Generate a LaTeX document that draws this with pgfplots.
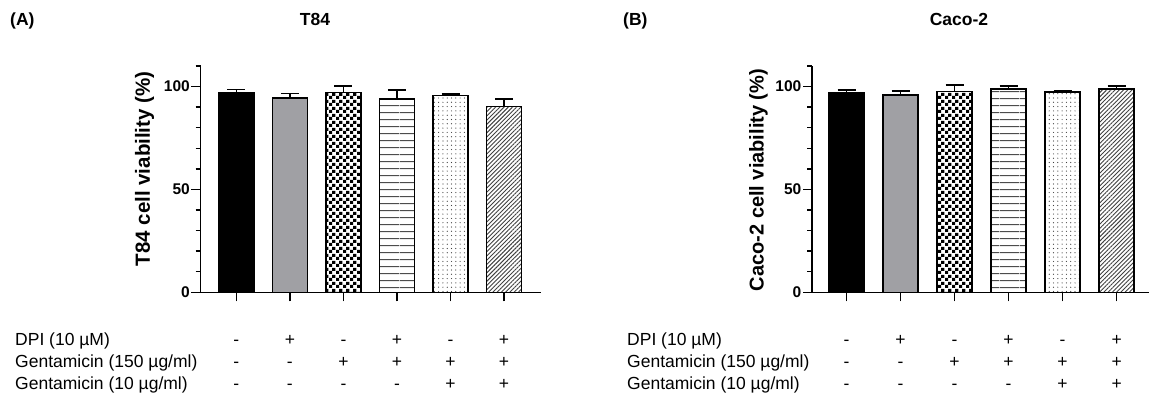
\documentclass[border=0pt]{standalone}
\usepackage{fontspec}
\setmainfont{Liberation Sans}
\usepackage{pgfplots}
\pgfplotsset{compat=1.18}
\usetikzlibrary{patterns,patterns.meta}
\definecolor{bargray}{RGB}{160,160,164}
\tikzdeclarepattern{
  name=bigcheck,
  type=uncolored,
  bounding box={(0pt,0pt) and (7pt,7pt)},
  tile size={(7pt,7pt)},
  code={
    \fill (0pt,0pt) rectangle (3.5pt,3.5pt);
    \fill (3.5pt,3.5pt) rectangle (7pt,7pt);
  }
}
\tikzdeclarepattern{
  name=hstripes,
  type=uncolored,
  bounding box={(0pt,0pt) and (20pt,6.8pt)},
  tile size={(20pt,6.8pt)},
  code={
    \fill (0pt,2.85pt) rectangle (20pt,3.95pt);
  }
}
\tikzset{
  rowlab/.style={font=\fontsize{17.5}{22}\selectfont, align=left, inner sep=0pt},
  sym/.style={font=\fontsize{17.5}{22}\selectfont, align=center, inner sep=0pt},
}
\pgfplotsset{
  panel/.style={
    scale only axis, anchor=south west,
    height=226.3pt,
    ymin=0, ymax=110,
    axis lines*=left,
    axis line style={line width=1.5pt, black},
    ytick={0,50,100},
    minor ytick={10,20,30,40,60,70,80,90,110},
    tick align=outside,
    major tick length=9pt, minor tick length=5pt,
    every tick/.style={line width=1.5pt, black},
    xtick={1,...,6}, xticklabels={},
    yticklabel style={font=\fontsize{15.5}{15.5}\selectfont\bfseries, inner sep=1.5pt},
    /pgf/number format/assume math mode=true,
    clip=false,
    every axis y label/.style={rotate=90, anchor=center, font=\fontsize{20.5}{20.5}\selectfont\bfseries},
  },
  errs/.style={error bars/y dir=plus, error bars/y explicit,
    error bars/error bar style={line width=1.5pt, black, solid},
    error bars/error mark options={line width=1.5pt, black, mark size=9pt, rotate=90}},
  barbase/.style={ybar, bar width=35pt, bar shift=0pt, draw=black, line width=1.5pt, errs},
}
\begin{document}
\begin{tikzpicture}
\useasboundingbox (0pt,0pt) rectangle (1150pt,-399pt);
% titles
\node[font=\fontsize{17.5}{17.5}\selectfont\bfseries, anchor=base west, inner sep=0pt] at (10pt,-25pt) {(A)};
\node[font=\fontsize{17.5}{17.5}\selectfont\bfseries, anchor=base, inner sep=0pt] at (315pt,-25pt) {T84};
\node[font=\fontsize{17.5}{17.5}\selectfont\bfseries, anchor=base west, inner sep=0pt] at (623pt,-25pt) {(B)};
\node[font=\fontsize{17.5}{17.5}\selectfont\bfseries, anchor=base, inner sep=0pt] at (959pt,-25pt) {Caco-2};

% Panel A
\begin{axis}[panel, at={(200.5pt,-292.3pt)}, width=340.5pt, xmin=0.33, xmax=6.69,
  ylabel={T84 cell viability (\%)},
  ylabel style={at={(rel axis cs:0,0.545)}, yshift=56pt}]
\addplot[barbase, fill=black] coordinates {(1,96.8) +- (0,1.7)};
\addplot[barbase, fill=bargray] coordinates {(2,94.5) +- (0,2.1)};
\addplot[barbase, pattern=bigcheck, pattern color=black] coordinates {(3,97.1) +- (0,3.1)};
\addplot[barbase, pattern=hstripes, pattern color=gray!60!black] coordinates {(4,94.0) +- (0,4.4)};
\addplot[barbase, pattern={Dots[distance=4.3pt,radius=0.6pt]}, pattern color=gray!50!black] coordinates {(5,95.6) +- (0,0.7)};
\addplot[barbase, pattern={Lines[angle=45,distance=3pt,line width=0.9pt]}, pattern color=gray!50!black] coordinates {(6,90.3) +- (0,3.7)};
\node[rowlab, anchor=north west, xshift=-185.5pt, yshift=-37.7pt] at (rel axis cs:0,0) {\strut DPI (10 µM)\\\strut Gentamicin (150 µg/ml)\\\strut Gentamicin (10 µg/ml)};
\node[sym, anchor=north, yshift=-37.7pt] at (axis cs:1,0) {\strut-\\\strut-\\\strut-};
\node[sym, anchor=north, yshift=-37.7pt] at (axis cs:2,0) {\strut+\\\strut-\\\strut-};
\node[sym, anchor=north, yshift=-37.7pt] at (axis cs:3,0) {\strut-\\\strut+\\\strut-};
\node[sym, anchor=north, yshift=-37.7pt] at (axis cs:4,0) {\strut+\\\strut+\\\strut-};
\node[sym, anchor=north, yshift=-37.7pt] at (axis cs:5,0) {\strut-\\\strut+\\\strut+};
\node[sym, anchor=north, yshift=-37.7pt] at (axis cs:6,0) {\strut+\\\strut+\\\strut+};
\end{axis}

% Panel B
\begin{axis}[panel, at={(812pt,-292.3pt)}, width=337pt, xmin=0.36, xmax=6.6,
  ylabel={Caco-2 cell viability (\%)},
  ylabel style={at={(rel axis cs:0,0.496)}, yshift=53.5pt, font=\fontsize{20}{20}\selectfont\bfseries}]
\addplot[barbase, fill=black] coordinates {(1,97.2) +- (0,1.2)};
\addplot[barbase, fill=bargray] coordinates {(2,95.9) +- (0,2.0)};
\addplot[barbase, pattern=bigcheck, pattern color=black] coordinates {(3,97.7) +- (0,3.1)};
\addplot[barbase, pattern=hstripes, pattern color=gray!60!black] coordinates {(4,98.9) +- (0,1.3)};
\addplot[barbase, pattern={Dots[distance=4.3pt,radius=0.6pt]}, pattern color=gray!50!black] coordinates {(5,97.4) +- (0,0.7)};
\addplot[barbase, pattern={Lines[angle=45,distance=3pt,line width=0.9pt]}, pattern color=gray!50!black] coordinates {(6,98.9) +- (0,1.3)};
\node[rowlab, anchor=north west, xshift=-185pt, yshift=-37.7pt] at (rel axis cs:0,0) {\strut DPI (10 µM)\\\strut Gentamicin (150 µg/ml)\\\strut Gentamicin (10 µg/ml)};
\node[sym, anchor=north, yshift=-37.7pt] at (axis cs:1,0) {\strut-\\\strut-\\\strut-};
\node[sym, anchor=north, yshift=-37.7pt] at (axis cs:2,0) {\strut+\\\strut-\\\strut-};
\node[sym, anchor=north, yshift=-37.7pt] at (axis cs:3,0) {\strut-\\\strut+\\\strut-};
\node[sym, anchor=north, yshift=-37.7pt] at (axis cs:4,0) {\strut+\\\strut+\\\strut-};
\node[sym, anchor=north, yshift=-37.7pt] at (axis cs:5,0) {\strut-\\\strut+\\\strut+};
\node[sym, anchor=north, yshift=-37.7pt] at (axis cs:6,0) {\strut+\\\strut+\\\strut+};
\end{axis}
\end{tikzpicture}
\end{document}
